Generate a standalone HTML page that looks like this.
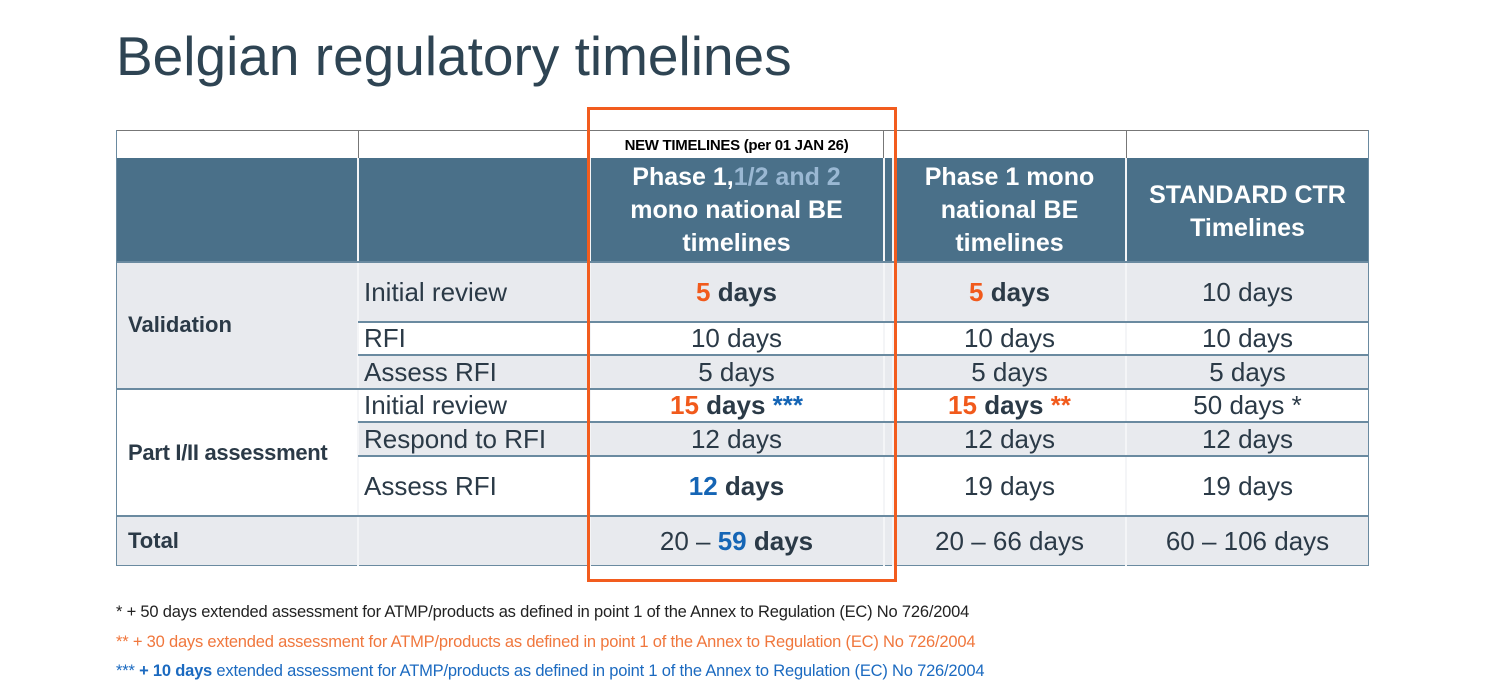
<!DOCTYPE html>
<html><head><meta charset="utf-8"><style>
body{margin:0;width:1504px;height:694px;background:#fff;position:relative;overflow:hidden;font-family:"Liberation Sans",sans-serif;color:#2b3a47}
.c{position:absolute;box-sizing:border-box;display:flex;align-items:center;justify-content:center;text-align:center;font-size:26px;line-height:1.1}
.l{justify-content:flex-start;padding-left:6px;text-align:left}
.h{background:#4a7089;color:#fff;font-weight:bold;font-size:25px;line-height:33px}
.g{background:#e8eaee}
.hl{position:absolute;height:2px;background:#6a8aa0}
.vl{position:absolute;width:2px;background:#f4f5f7}
.o{color:#f15a1c}.b{color:#1565b5}
.fn{position:absolute;left:116px;font-size:16.5px;font-family:"Liberation Sans",sans-serif;letter-spacing:-0.2px}
</style></head><body>
<div style="position:absolute;left:116px;top:24px;font-size:55px;color:#2e4453">Belgian regulatory timelines</div>

<!-- top row -->
<div class="c" style="left:116px;top:130px;width:1253px;height:28px;border:1px solid #777;border-bottom:none"></div>
<div style="position:absolute;left:358px;top:130px;width:1px;height:28px;background:#777"></div>
<div style="position:absolute;left:883px;top:130px;width:1px;height:28px;background:#777"></div>
<div style="position:absolute;left:1126px;top:130px;width:1px;height:28px;background:#777"></div>
<div class="c" style="left:590px;top:131px;width:293px;height:27px;font-size:15px;font-weight:bold;color:#000;letter-spacing:-0.3px;padding-top:4px">NEW TIMELINES (per 01 JAN 26)</div>

<!-- header -->
<div class="c h" style="left:116px;top:158px;width:1253px;height:104px"></div>
<div class="c h" style="left:590px;top:158px;width:293px;height:104px"><div>Phase 1,<span style="color:#9ab8d3">1/2 and 2</span><br>mono national BE<br>timelines</div></div>
<div class="c h" style="left:893px;top:158px;width:233px;height:104px"><div>Phase 1 mono<br>national BE<br>timelines</div></div>
<div class="c h" style="left:1126px;top:158px;width:243px;height:104px;padding-top:4px"><div>STANDARD CTR<br>Timelines</div></div>

<!-- body backgrounds -->
<div class="c g" style="left:116px;top:262px;width:1253px;height:60px"></div>
<div class="c g" style="left:116px;top:262px;width:242px;height:127px"></div>
<div class="c g" style="left:116px;top:355px;width:1253px;height:34px"></div>
<div class="c g" style="left:358px;top:422px;width:1011px;height:34px"></div>
<div class="c g" style="left:116px;top:516px;width:1253px;height:50px"></div>
<div style="position:absolute;left:116px;top:130px;width:1253px;height:436px;border:1px solid #6a8aa0;border-top:none;box-sizing:border-box"></div>
<div class="vl" style="left:357px;top:158px;height:408px"></div>
<div class="vl" style="left:589px;top:158px;height:408px"></div>
<div class="vl" style="left:883px;top:158px;height:408px"></div>
<div class="vl" style="left:892px;top:158px;height:408px"></div>
<div class="vl" style="left:1125px;top:158px;height:408px"></div>
<div class="hl" style="left:116px;top:261px;width:1253px"></div>
<div class="hl" style="left:358px;top:321px;width:1011px"></div>
<div class="hl" style="left:358px;top:354px;width:1011px"></div>
<div class="hl" style="left:116px;top:388px;width:1253px"></div>
<div class="hl" style="left:358px;top:421px;width:1011px"></div>
<div class="hl" style="left:358px;top:455px;width:1011px"></div>
<div class="hl" style="left:116px;top:515px;width:1253px"></div>

<!-- labels -->
<div class="c l" style="left:122px;top:262px;width:236px;height:127px;font-weight:bold;font-size:22px">Validation</div>
<div class="c l" style="left:122px;top:389px;width:236px;height:127px;font-weight:bold;font-size:22px;padding-top:2px;letter-spacing:-0.3px">Part I/II assessment</div>
<div class="c l" style="left:122px;top:516px;width:236px;height:50px;font-weight:bold;font-size:22px">Total</div>
<div class="c l" style="left:358px;top:262px;width:232px;height:60px">Initial review</div>
<div class="c l" style="left:358px;top:322px;width:232px;height:33px">RFI</div>
<div class="c l" style="left:358px;top:355px;width:232px;height:34px">Assess RFI</div>
<div class="c l" style="left:358px;top:389px;width:232px;height:33px">Initial review</div>
<div class="c l" style="left:358px;top:422px;width:232px;height:34px">Respond to RFI</div>
<div class="c l" style="left:358px;top:456px;width:232px;height:60px">Assess RFI</div>

<!-- col1 -->
<div class="c" style="left:590px;top:262px;width:293px;height:60px;font-weight:bold"><div><span class="o">5</span> days</div></div>
<div class="c" style="left:590px;top:322px;width:293px;height:33px">10 days</div>
<div class="c" style="left:590px;top:355px;width:293px;height:34px">5 days</div>
<div class="c" style="left:590px;top:389px;width:293px;height:33px;font-weight:bold"><div><span class="o">15</span> days <span class="b">***</span></div></div>
<div class="c" style="left:590px;top:422px;width:293px;height:34px">12 days</div>
<div class="c" style="left:590px;top:456px;width:293px;height:60px;font-weight:bold"><div><span class="b">12</span> days</div></div>
<div class="c" style="left:590px;top:516px;width:293px;height:50px"><div>20 – <b class="b">59</b> <b>days</b></div></div>
<!-- col2 -->
<div class="c" style="left:893px;top:262px;width:233px;height:60px;font-weight:bold"><div><span class="o">5</span> days</div></div>
<div class="c" style="left:893px;top:322px;width:233px;height:33px">10 days</div>
<div class="c" style="left:893px;top:355px;width:233px;height:34px">5 days</div>
<div class="c" style="left:893px;top:389px;width:233px;height:33px;font-weight:bold"><div><span class="o">15</span> days <span class="o">**</span></div></div>
<div class="c" style="left:893px;top:422px;width:233px;height:34px">12 days</div>
<div class="c" style="left:893px;top:456px;width:233px;height:60px">19 days</div>
<div class="c" style="left:893px;top:516px;width:233px;height:50px">20 – 66 days</div>
<!-- col3 -->
<div class="c" style="left:1126px;top:262px;width:243px;height:60px">10 days</div>
<div class="c" style="left:1126px;top:322px;width:243px;height:33px">10 days</div>
<div class="c" style="left:1126px;top:355px;width:243px;height:34px">5 days</div>
<div class="c" style="left:1126px;top:389px;width:243px;height:33px">50 days *</div>
<div class="c" style="left:1126px;top:422px;width:243px;height:34px">12 days</div>
<div class="c" style="left:1126px;top:456px;width:243px;height:60px">19 days</div>
<div class="c" style="left:1126px;top:516px;width:243px;height:50px">60 – 106 days</div>

<!-- orange box -->
<div style="position:absolute;left:587px;top:107px;width:310px;height:475px;border:3px solid #f25c1e;box-sizing:border-box"></div>

<div class="fn" style="top:603px;color:#222">* + 50 days extended assessment for ATMP/products as defined in point 1 of the Annex to Regulation (EC) No 726/2004</div>
<div class="fn" style="top:633px;color:#f0773d">** + 30 days extended assessment for ATMP/products as defined in point 1 of the Annex to Regulation (EC) No 726/2004</div>
<div class="fn" style="top:662px;color:#1b6ac0">*** <b>+ 10 days</b> extended assessment for ATMP/products as defined in point 1 of the Annex to Regulation (EC) No 726/2004</div>
</body></html>
